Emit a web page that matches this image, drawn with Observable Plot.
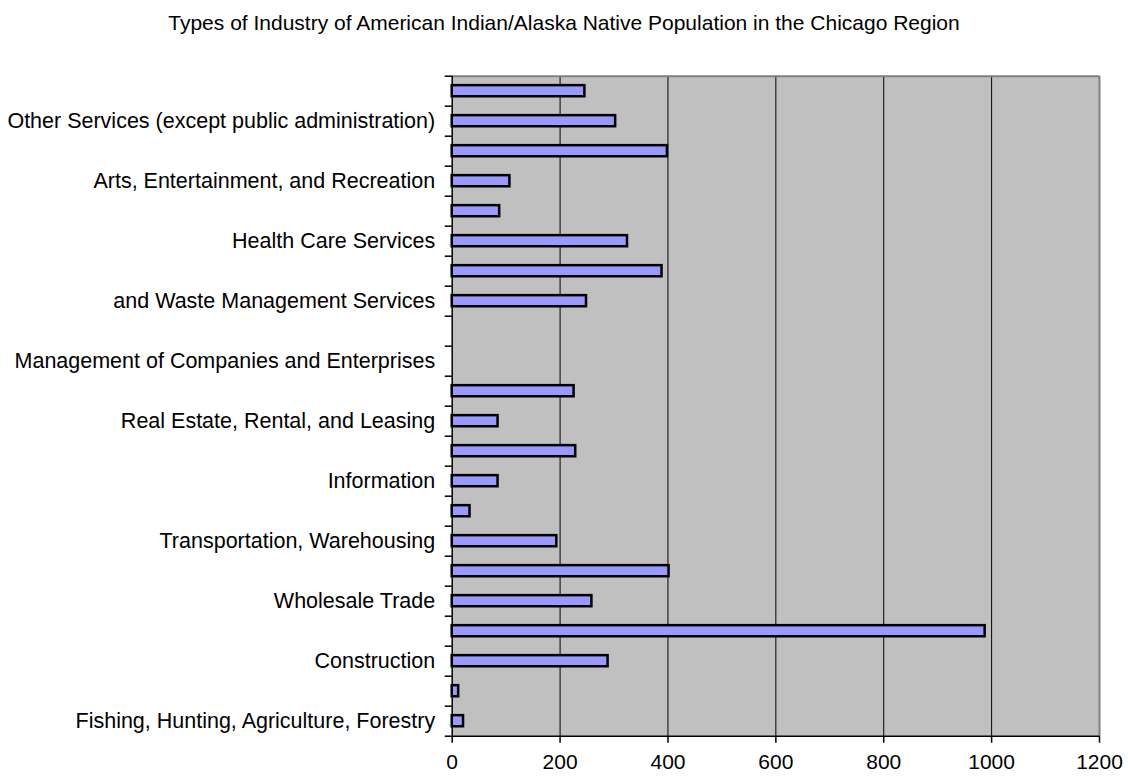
<!DOCTYPE html>
<html>
<head>
<meta charset="utf-8">
<script src="https://cdn.jsdelivr.net/npm/d3@7"></script>
<script src="https://cdn.jsdelivr.net/npm/@observablehq/plot@0.6"></script>
<style>
  html, body { margin: 0; padding: 0; background: white; }
  #title { width: 1128px; height: 46px; line-height: 46px; text-align: center;
           font-family: "Liberation Sans", Arial, sans-serif; font-size: 21px; color: black; }
</style>
</head>
<body>
<div id="title">Types of Industry of American Indian/Alaska Native Population in the Chicago Region</div>
<div id="chart"></div>
<script>
// Categories listed bottom -> top, as drawn
const industries = [
  "Fishing, Hunting, Agriculture, Forestry",
  "Mining",
  "Construction",
  "Manufacturing",
  "Wholesale Trade",
  "Retail Trade",
  "Transportation, Warehousing",
  "Utilities",
  "Information",
  "Finance and Insurance",
  "Real Estate, Rental, and Leasing",
  "Professional, Scientific, and Technical Services",
  "Management of Companies and Enterprises",
  "Administrative and Support",
  "and Waste Management Services",
  "Educational Services",
  "Health Care Services",
  "Social Assistance",
  "Arts, Entertainment, and Recreation",
  "Accommodation and Food Services",
  "Other Services (except public administration)",
  "Public Administration"
];
const workers = [21, 12, 289, 988, 259, 402, 194, 33, 85, 229, 85, 226, 0, null, 249, 389, 325, 88, 107, 399, 303, 246];
const xTicks = [0, 200, 400, 600, 800, 1000, 1200];

const data = industries.map((name, i) => ({i, name, value: workers[i]}));
const labeled = data.filter(d => d.i % 2 === 0).map(d => d.i);
const boundaries = d3.range(-0.5, industries.length, 1);

const chart = Plot.plot({
  width: 1128,
  height: 732,
  marginTop: 29.7,
  marginBottom: 42.3,
  marginLeft: 451.7,
  marginRight: 29,
  style: {fontFamily: "'Liberation Sans', Arial, sans-serif", fontSize: "21px", color: "black", background: "white"},
  x: {domain: [0, 1200], label: null},
  y: {domain: [-0.5, industries.length - 0.5], label: null},
  marks: [
    Plot.frame({fill: "#C0C0C0", stroke: null}),
    Plot.ruleX(xTicks.slice(1, -1), {stroke: "black", strokeWidth: 1}),
    Plot.rectX(data.filter(d => d.value > 0), {
      x1: 0, x2: "value",
      y1: d => d.i - 0.185, y2: d => d.i + 0.185,
      fill: "#9999FF", stroke: "black", strokeWidth: 2.5
    }),
    Plot.ruleY([industries.length - 0.5], {stroke: "#808080", strokeWidth: 2}),
    Plot.ruleX([1200], {stroke: "#808080", strokeWidth: 2}),
    Plot.ruleX([0], {stroke: "black", strokeWidth: 1.5}),
    Plot.ruleY([-0.5], {stroke: "black", strokeWidth: 1.5}),
    Plot.axisX({ticks: xTicks, tickSize: 7, tickPadding: 11, tickFormat: d => String(d), label: null, stroke: "black", strokeWidth: 1.5, fill: "black", fontSize: 21}),
    Plot.axisY({ticks: labeled, tickSize: 0, tickPadding: 17, tickFormat: i => industries[i], label: null, fill: "black", fontSize: 21.5}),
    Plot.axisY({ticks: boundaries, tickSize: 7, tickFormat: () => "", label: null, stroke: "black", strokeWidth: 1.5})
  ]
});
document.getElementById("chart").appendChild(chart);
</script>
</body>
</html>
